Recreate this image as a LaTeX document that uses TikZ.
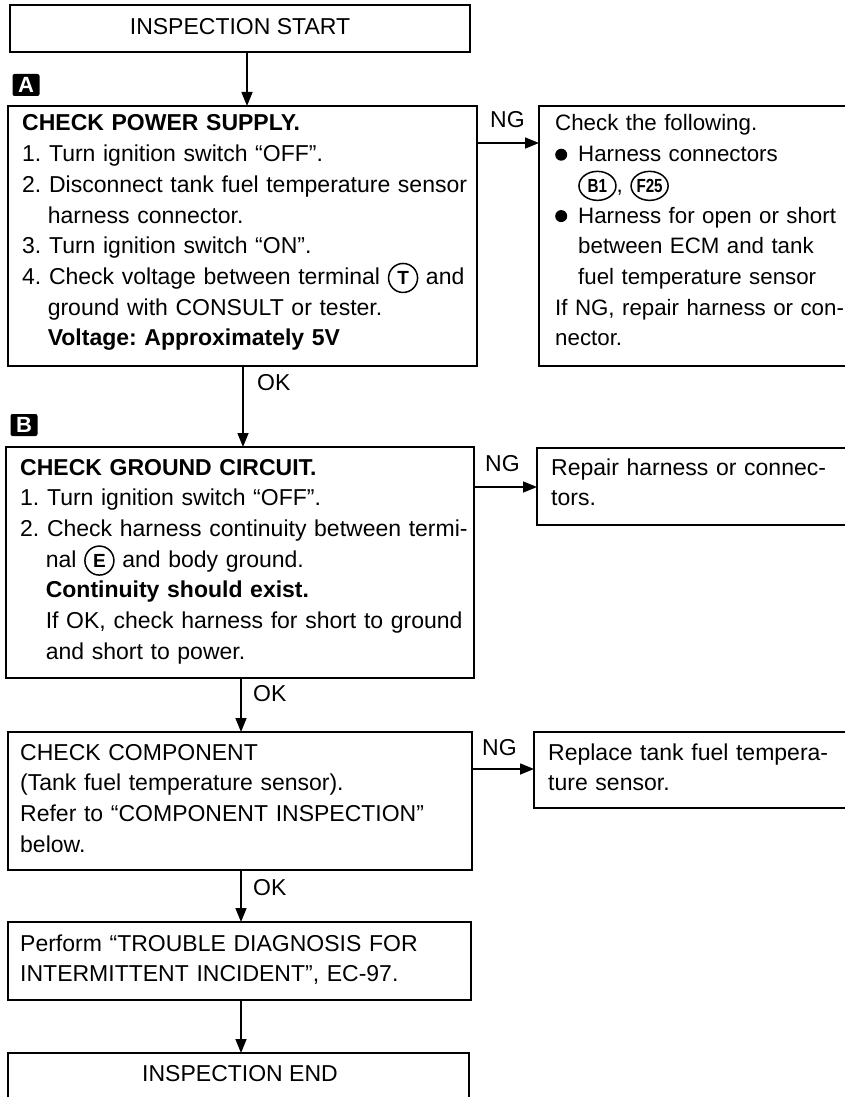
\documentclass[tikz,border=0pt]{standalone}
\usepackage{fontspec}
\setmainfont{Liberation Sans}
\usetikzlibrary{arrows.meta,shapes.geometric}
\frenchspacing

\newcommand{\circl}[1]{\tikz[baseline=(cc.base)]\node[draw,circle,line width=1.5pt,inner sep=0pt,minimum size=29pt,font=\bfseries\fontsize{19}{19}\selectfont](cc){#1};}
\newcommand{\ovl}[1]{\tikz[baseline=(ov.base)]\node[draw,ellipse,line width=1.5pt,inner sep=0pt,minimum width=37pt,minimum height=29pt,font=\bfseries\fontsize{19}{19}\selectfont](ov){\scalebox{0.8}[1]{#1}};}
\newcommand{\blt}{\makebox[23pt][l]{\tikz[baseline=0pt]\fill (6pt,7pt) circle (6pt);}}
\newcommand{\ind}{\hspace*{25.6pt}}
\newcommand{\bind}{\hspace*{23pt}}

\tikzset{
  box/.style={draw, line width=1.8pt, inner sep=0pt, outer sep=0pt, anchor=north west},
  txt/.style={anchor=base west, inner sep=0pt, text width=480pt, align=left, font=\fontsize{23}{30.7}\selectfont},
  lbl/.style={anchor=base west, inner sep=0pt, font=\fontsize{23}{28}\selectfont},
  ctr/.style={anchor=base, inner sep=0pt, font=\fontsize{23}{28}\selectfont},
  arr/.style={line width=1.5pt, -{Triangle[length=14pt,width=11pt]}},
  secmark/.style={fill=black, text=white, rounded corners=2pt, inner sep=0pt, minimum width=27pt, minimum height=22pt, font=\bfseries\fontsize{22}{22}\selectfont},
}

\begin{document}
\begin{tikzpicture}[x=1pt,y=-1pt]
\useasboundingbox (0,0) rectangle (845,1097);

% boxes
\node[box, minimum width=460pt, minimum height=47pt] (start) at (10,5) {};
\node[box, minimum width=469pt, minimum height=260pt] (boxA) at (8,106) {};
\node[box, minimum width=307pt, minimum height=260pt] (ng1) at (539,106) {};
\node[box, minimum width=468pt, minimum height=231pt] (boxB) at (6,447) {};
\node[box, minimum width=309pt, minimum height=77pt] (ng2) at (537,448) {};
\node[box, minimum width=464pt, minimum height=138pt] (boxC) at (8,732) {};
\node[box, minimum width=312pt, minimum height=76pt] (ng3) at (534,732) {};
\node[box, minimum width=463pt, minimum height=78pt] (boxD) at (8,922) {};
\node[box, minimum width=461pt, minimum height=50pt] (boxE) at (8,1053) {};

% section markers
\node[secmark] (mA) at (26,85) {A};
\node[secmark] (mB) at (24,425) {B};

% texts
\node[ctr] (tS) at (240,35) {INSPECTION START};
\node[txt] (tA) at (22,131) {\textbf{CHECK POWER SUPPLY.}\\
1.\ Turn ignition switch “OFF”.\\
2.\ Disconnect tank fuel temperature sensor\\
\ind harness connector.\\
3.\ Turn ignition switch “ON”.\\
4.\ Check voltage between terminal \circl{T} and\\
\ind ground with CONSULT or tester.\\
\ind\textbf{Voltage: Approximately 5V}};
\node[txt, font=\fontsize{22.3}{30.7}\selectfont] (t1) at (555,131) {Check the following.\\
\blt Harness connectors\\
\bind\ovl{B1}, \ovl{F25}\\
\blt Harness for open or short\\
\bind between ECM and tank\\
\bind fuel temperature sensor\\
If NG, repair harness or con-\\
nector.};
\node[txt] (tB) at (20,475) {\textbf{CHECK GROUND CIRCUIT.}\\
1.\ Turn ignition switch “OFF”.\\
2.\ Check harness continuity between termi-\\
\ind nal \circl{E} and body ground.\\
\ind\textbf{Continuity should exist.}\\
\ind If OK, check harness for short to ground\\
\ind and short to power.};
\node[txt] (t2) at (551,475) {Repair harness or connec-\\
tors.};
\node[txt] (tC) at (20,760) {CHECK COMPONENT\\
(Tank fuel temperature sensor).\\
Refer to “COMPONENT INSPECTION”\\
below.};
\node[txt] (t3) at (548,760) {Replace tank fuel tempera-\\
ture sensor.};
\node[txt] (tD) at (20,951) {Perform “TROUBLE DIAGNOSIS FOR\\
INTERMITTENT INCIDENT”, EC-97.};
\node[ctr] (tE) at (240,1081) {INSPECTION END};

% connector labels
\node[lbl] (ok1) at (257,390) {OK};
\node[lbl] (ok2) at (253,701) {OK};
\node[lbl] (ok3) at (253,895) {OK};
\node[lbl] (ng1l) at (490,128) {NG};
\node[lbl] (ng2l) at (485,471) {NG};
\node[lbl] (ng3l) at (482,755) {NG};

% connectors
\coordinate (x1) at (247,0);
\coordinate (x2) at (243,0);
\coordinate (x3) at (241,0);
\coordinate (y1) at (0,143);
\coordinate (y2) at (0,487);
\coordinate (y3) at (0,769);
\draw[arr] (start.south -| x1) -- (boxA.north -| x1);
\draw[arr] (boxA.south -| x2) -- (boxB.north -| x2);
\draw[arr] (boxB.south -| x3) -- (boxC.north -| x3);
\draw[arr] (boxC.south -| x3) -- (boxD.north -| x3);
\draw[arr] (boxD.south -| x3) -- (boxE.north -| x3);
\draw[arr] (boxA.east |- y1) -- (ng1.west |- y1);
\draw[arr] (boxB.east |- y2) -- (ng2.west |- y2);
\draw[arr] (boxC.east |- y3) -- (ng3.west |- y3);
\end{tikzpicture}
\end{document}
